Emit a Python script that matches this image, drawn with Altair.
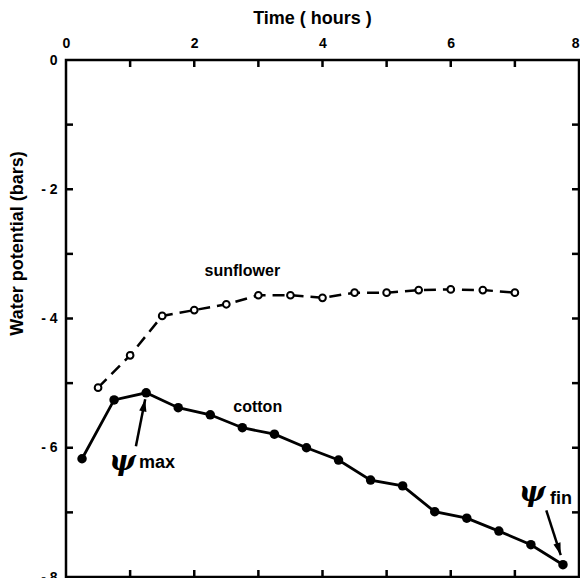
import altair as alt
import pandas as pd

# ---- data ----
cotton_time = [0.25, 0.75, 1.25, 1.75, 2.25, 2.75, 3.25, 3.75, 4.25, 4.75, 5.25, 5.75, 6.25, 6.75, 7.25, 7.75]
cotton_psi = [-6.17, -5.26, -5.15, -5.38, -5.49, -5.69, -5.79, -6.00, -6.19, -6.50, -6.59, -6.99, -7.09, -7.29, -7.50, -7.81]

sun_time = [0.5, 1.0, 1.5, 2.0, 2.5, 3.0, 3.5, 4.0, 4.5, 5.0, 5.5, 6.0, 6.5, 7.0]
sun_psi = [-5.07, -4.57, -3.96, -3.87, -3.78, -3.64, -3.64, -3.68, -3.60, -3.60, -3.56, -3.55, -3.56, -3.60]

x_ticks = [0, 1, 2, 3, 4, 5, 6, 7, 8]
y_ticks = [0, -1, -2, -3, -4, -5, -6, -7, -8]
x_minor = [1, 2, 3, 4, 5, 6, 7]
y_minor = [-1, -2, -3, -4, -5, -6, -7]

series_labels = ["sunflower", "cotton"]
series_label_x = [2.75, 2.99]
series_label_y = [-3.27, -5.37]

psi_sym = ["\u03c8", "\u03c8"]
psi_x = [0.88, 7.27]
psi_y = [-6.22, -6.70]
psi_sub = ["max", "fin"]
psi_sub_x = [1.42, 7.72]
psi_sub_y = [-6.24, -6.80]

arrow_x = [1.09, 7.49]
arrow_y = [-5.975, -6.97]
arrow_x2 = [1.235, 7.715]
arrow_y2 = [-5.25, -7.66]
arrow_angle = [11.2, 162.3]

cotton = pd.DataFrame({"t": cotton_time, "psi": cotton_psi})
sun = pd.DataFrame({"t": sun_time, "psi": sun_psi})
labels = pd.DataFrame({"text": series_labels, "x": series_label_x, "y": series_label_y})
psis = pd.DataFrame({"text": psi_sym, "x": psi_x, "y": psi_y})
subs = pd.DataFrame({"text": psi_sub, "x": psi_sub_x, "y": psi_sub_y})
arrows = pd.DataFrame({"x": arrow_x, "y": arrow_y, "x2": arrow_x2, "y2": arrow_y2, "angle": arrow_angle})
xt = pd.DataFrame({"v": x_minor})
yt = pd.DataFrame({"v": y_minor})

W, H = 513, 517
TICK = 7
FONT = "Liberation Sans"
xs = alt.Scale(domain=[0, 8], nice=False, zero=False)
ys = alt.Scale(domain=[-8, 0], nice=False, zero=False)

common_axis = dict(
    domain=False, ticks=False, grid=False, labelFont=FONT, labelFontWeight="bold",
    labelFontSize=14, labelColor="black", labelFlush=False,
    titleFont=FONT, titleFontWeight="bold", titleFontSize=18, titleColor="black",
)

x_top = alt.Axis(
    orient="top", values=x_ticks,
    labelExpr="datum.value % 2 == 0 ? datum.label : ''",
    labelAlign={"condition": {"test": "datum.value == 8", "value": "right"}, "value": "center"},
    labelPadding=10,
    title="Time ( hours )", titleX=246, titleY=-42, titleBaseline="middle",
    titleAlign="center",
    **common_axis,
)
y_left = alt.Axis(
    orient="left", values=y_ticks,
    labelExpr="datum.value % 2 == 0 ? (datum.value < 0 ? '- ' + abs(datum.value) : '0') : ''",
    labelPadding=9,
    title="Water potential (bars)", titleX=-49, titleY=183, titleAngle=270,
    titleBaseline="middle", titleAlign="center",
    **common_axis,
)

cotton_line = alt.Chart(cotton).mark_line(color="black", strokeWidth=2.8).encode(
    x=alt.X("t:Q", scale=xs, axis=x_top),
    y=alt.Y("psi:Q", scale=ys, axis=y_left),
)
sun_line = alt.Chart(sun).mark_line(color="black", strokeWidth=2.5, strokeDash=[12, 7]).encode(
    x=alt.X("t:Q", scale=xs, axis=None),
    y=alt.Y("psi:Q", scale=ys, axis=None),
)
cotton_pts = alt.Chart(cotton).mark_point(
    filled=True, color="black", size=90, opacity=1, shape="circle"
).encode(
    x=alt.X("t:Q", scale=xs, axis=None),
    y=alt.Y("psi:Q", scale=ys, axis=None),
)
sun_pts = alt.Chart(sun).mark_point(
    filled=True, fill="white", stroke="black", strokeWidth=2, size=45, opacity=1, shape="circle"
).encode(
    x=alt.X("t:Q", scale=xs, axis=None),
    y=alt.Y("psi:Q", scale=ys, axis=None),
)
label_text = alt.Chart(labels).mark_text(
    font=FONT, fontWeight="bold", fontSize=16, color="black"
).encode(
    x=alt.X("x:Q", scale=xs, axis=None),
    y=alt.Y("y:Q", scale=ys, axis=None),
    text="text:N",
)
psi_text = alt.Chart(psis).mark_text(
    font="DejaVu Serif", fontWeight="bold", fontStyle="italic", fontSize=28, color="black"
).encode(
    x=alt.X("x:Q", scale=xs, axis=None),
    y=alt.Y("y:Q", scale=ys, axis=None),
    text="text:N",
)
sub_text = alt.Chart(subs).mark_text(
    font=FONT, fontWeight="bold", fontSize=18, color="black"
).encode(
    x=alt.X("x:Q", scale=xs, axis=None),
    y=alt.Y("y:Q", scale=ys, axis=None),
    text="text:N",
)
arrow_shaft = alt.Chart(arrows).mark_rule(color="black", strokeWidth=2.5).encode(
    x=alt.X("x:Q", scale=xs, axis=None),
    y=alt.Y("y:Q", scale=ys, axis=None),
    x2="x2:Q",
    y2="y2:Q",
)
arrow_head = alt.Chart(arrows).mark_point(
    shape="M0,0L-0.6,2L0.6,2Z", filled=True, color="black", opacity=1, size=150
).encode(
    x=alt.X("x2:Q", scale=xs, axis=None),
    y=alt.Y("y2:Q", scale=ys, axis=None),
    angle=alt.Angle("angle:Q", scale=None),
)

# inward tick marks on all four sides, positioned by the scales
tick_top = alt.Chart(xt).mark_rule(color="black", strokeWidth=2.5).encode(
    x=alt.X("v:Q", scale=xs, axis=None), y=alt.value(0), y2=alt.value(TICK))
tick_bottom = alt.Chart(xt).mark_rule(color="black", strokeWidth=2.5).encode(
    x=alt.X("v:Q", scale=xs, axis=None), y=alt.value(H - TICK), y2=alt.value(H))
tick_left = alt.Chart(yt).mark_rule(color="black", strokeWidth=2.5).encode(
    y=alt.Y("v:Q", scale=ys, axis=None), x=alt.value(0), x2=alt.value(TICK))
tick_right = alt.Chart(yt).mark_rule(color="black", strokeWidth=2.5).encode(
    y=alt.Y("v:Q", scale=ys, axis=None), x=alt.value(W - TICK), x2=alt.value(W))

chart = alt.layer(
    cotton_line, sun_line, cotton_pts, sun_pts, label_text, psi_text, sub_text,
    arrow_shaft, arrow_head, tick_top, tick_bottom, tick_left, tick_right,
).resolve_axis(x="independent", y="independent").properties(
    width=W, height=H,
    autosize=alt.AutoSizeParams(type="none"),
    padding={"left": 58, "top": 52, "right": 1, "bottom": 20},
    background="white",
).configure_view(stroke="black", strokeWidth=2.5)

chart.save("out.html", embed_options={"renderer": "svg", "actions": False})
